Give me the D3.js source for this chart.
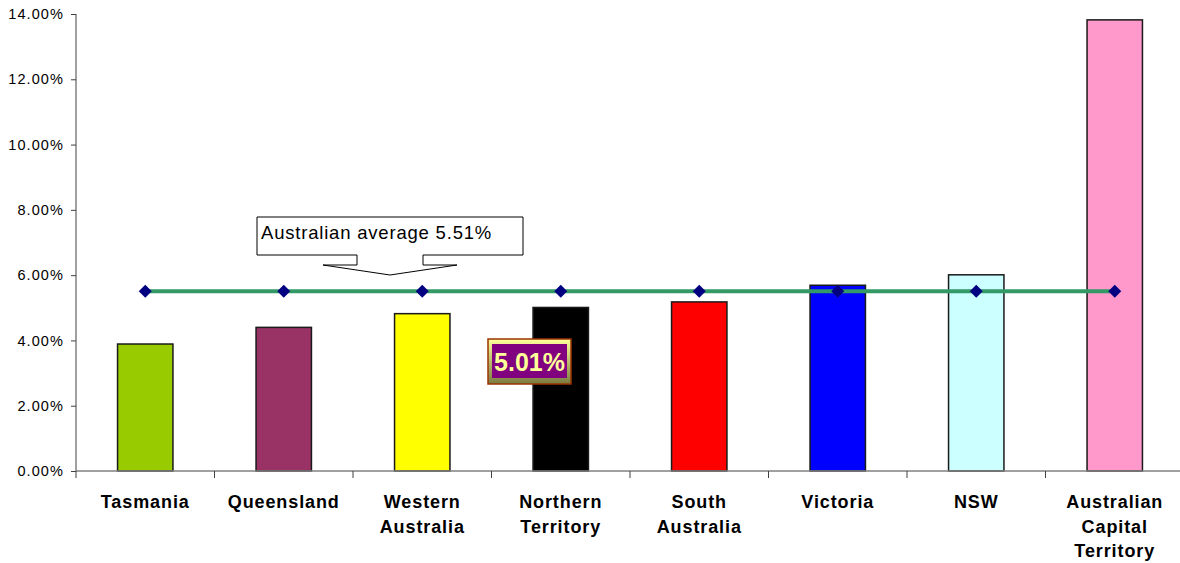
<!DOCTYPE html>
<html>
<head>
<meta charset="utf-8">
<script src="https://cdn.jsdelivr.net/npm/d3@7"></script>
<style>
  html, body { margin: 0; padding: 0; background: #fff; }
  svg { display: block; font-family: Arial, "Liberation Sans", sans-serif; }
</style>
</head>
<body>
<svg id="chart" width="1180" height="563"></svg>
<script>
// State / territory names (line breaks as drawn on the axis)
const states = ["Tasmania", "Queensland", "Western\nAustralia", "Northern\nTerritory",
                "South\nAustralia", "Victoria", "NSW", "Australian\nCapital\nTerritory"];
// Rate for each state, in percent
const rates = [3.89, 4.40, 4.82, 5.01, 5.18, 5.69, 6.01, 13.82];
// Fill colour of each bar
const barColors = ["#99cc00", "#993366", "#ffff00", "#000000", "#ff0000", "#0000ff", "#ccffff", "#ff99cc"];
// National average, repeated at every state
const average = 5.51;
const averageSeries = states.map(() => average);
// Y axis tick values
const yTicks = [0, 2, 4, 6, 8, 10, 12, 14];

const svg = d3.select("#chart");
const plotLeft = 76, plotRight = 1184, plotTop = 14, plotBottom = 471;

const x = d3.scaleBand().domain(states).range([plotLeft, plotRight]).paddingInner(0).paddingOuter(0);
const y = d3.scaleLinear().domain([0, 14]).range([plotBottom, plotTop]);
const barW = x.bandwidth() * 0.4;
const cx = d => x(d) + x.bandwidth() / 2;

// Bars
svg.append("g").selectAll("rect").data(states).join("rect")
  .attr("x", d => cx(d) - barW / 2)
  .attr("y", (d, i) => y(rates[i]))
  .attr("width", barW)
  .attr("height", (d, i) => y(0) - y(rates[i]))
  .attr("fill", (d, i) => barColors[i])
  .attr("stroke", "#1a1a1a")
  .attr("stroke-width", 1.5);

// Y axis
const yAxis = svg.append("g").attr("transform", `translate(${plotLeft},0)`)
  .call(d3.axisLeft(y).tickValues(yTicks).tickSize(5).tickPadding(7)
        .tickFormat(d => d3.format(".2f")(d) + "%"));
yAxis.select(".domain").attr("stroke", "#808080").attr("stroke-width", 1.5).attr("d", `M0,${plotTop}V${plotBottom}`);
yAxis.selectAll(".tick line").attr("stroke", "#404040");
yAxis.selectAll("text").attr("font-size", 14.5).attr("letter-spacing", 1.1).attr("fill", "#000")
  .attr("font-family", "Arial, 'Liberation Sans', sans-serif");

// X axis with tick marks at the category boundaries
const xg = svg.append("g");
xg.append("line").attr("x1", plotLeft).attr("x2", plotRight).attr("y1", plotBottom).attr("y2", plotBottom)
  .attr("stroke", "#808080").attr("stroke-width", 1.5);
const bounds = states.map(d => x(d)).concat([plotRight]);
xg.selectAll("line.tk").data(bounds).join("line").attr("class", "tk")
  .attr("x1", d => d).attr("x2", d => d).attr("y1", plotBottom).attr("y2", plotBottom + 7)
  .attr("stroke", "#404040").attr("stroke-width", 1);

// Category labels
const labels = svg.append("g").selectAll("text").data(states).join("text")
  .attr("x", d => cx(d)).attr("y", 508)
  .attr("text-anchor", "middle").attr("font-size", 18).attr("letter-spacing", 0.9)
  .attr("font-weight", "bold");
labels.each(function(d) {
  const t = d3.select(this);
  d.split("\n").forEach((ln, k) => {
    t.append("tspan").attr("x", cx(d)).attr("dy", k === 0 ? 0 : 24.5).text(ln);
  });
});

// Average line with markers
const line = d3.line().x((v, i) => cx(states[i])).y(v => y(v));
svg.append("path").datum(averageSeries).attr("d", line)
  .attr("fill", "none").attr("stroke", "#339966").attr("stroke-width", 4);
svg.append("g").selectAll("path").data(averageSeries).join("path")
  .attr("transform", (v, i) => `translate(${cx(states[i])},${y(v)})`)
  .attr("d", "M0,-6.5L6.5,0L0,6.5L-6.5,0Z")
  .attr("fill", "#000080");

// Callout for the national average
const co = svg.append("g");
co.append("path")
  .attr("d", "M257,217H523V255H423V265H457L390,275L323,265H357V255H257Z")
  .attr("fill", "#fff").attr("stroke", "#000").attr("stroke-width", 1);
co.append("text").attr("x", 261).attr("y", 239).attr("font-size", 18.5).attr("letter-spacing", 0.8)
  .text(`Australian average ${average.toFixed(2)}%`);

// Highlighted value label for the Northern Territory bar
const defs = svg.append("defs");
const grad = defs.append("linearGradient").attr("id", "lblGrad").attr("x1", 0).attr("y1", 0).attr("x2", 0).attr("y2", 1);
grad.append("stop").attr("offset", "0%").attr("stop-color", "#ffff99");
grad.append("stop").attr("offset", "100%").attr("stop-color", "#7a7a40");
const ntIdx = 3;
const lbl = svg.append("g");
lbl.append("rect").attr("x", 488).attr("y", 339).attr("width", 83).attr("height", 45)
  .attr("fill", "url(#lblGrad)").attr("stroke", "#993300").attr("stroke-width", 1.5);
lbl.append("rect").attr("x", 492).attr("y", 344).attr("width", 75).attr("height", 34)
  .attr("fill", "#800080");
lbl.append("text").attr("x", 529.5).attr("y", 371).attr("text-anchor", "middle")
  .attr("font-size", 25).attr("font-weight", "bold").attr("fill", "#ffff99")
  .text(rates[ntIdx].toFixed(2) + "%");
</script>
</body>
</html>
